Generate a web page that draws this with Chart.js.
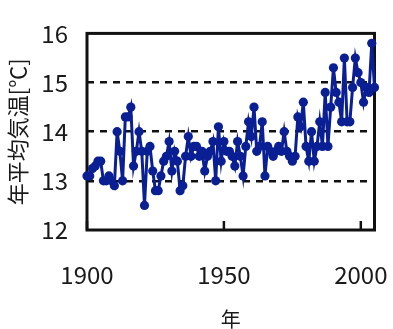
<!DOCTYPE html>
<html>
<head>
<meta charset="utf-8">
<script src="https://cdn.jsdelivr.net/npm/chart.js@4.4.1/dist/chart.umd.min.js"></script>
<style>
  html, body { margin: 0; padding: 0; background: #fff; }
</style>
</head>
<body>
<canvas id="tempChart" width="393" height="329"></canvas>
<script>
// annual mean temperature
const years = [];
for (let y = 1900; y <= 2006; y++) years.push(y);

const temps = [
  13.1, 13.1, 13.25, 13.3, 13.4, 13.4, 13.0, 13.0, 13.1, 13.0,   // 1900-1909
  12.9, 14.0, 13.6, 13.0, 14.3, 14.3, 14.5, 13.3, 13.6, 14.0,    // 1910-1919
  13.6, 12.5, 13.6, 13.7, 13.2, 12.8, 12.8, 13.1, 13.4, 13.5,    // 1920-1929
  13.8, 13.2, 13.6, 13.4, 12.8, 12.9, 13.5, 13.9, 13.5, 13.7,    // 1930-1939
  13.7, 13.5, 13.6, 13.2, 13.5, 13.6, 13.8, 13.0, 14.1, 13.4,    // 1940-1949
  13.8, 13.6, 13.6, 13.5, 13.3, 13.8, 13.5, 13.1, 13.7, 14.2,    // 1950-1959
  13.9, 14.5, 13.6, 13.7, 14.2, 13.1, 13.7, 13.6, 13.5, 13.6,    // 1960-1969
  13.7, 13.6, 14.0, 13.6, 13.5, 13.4, 13.5, 14.3, 14.1, 14.6,    // 1970-1979
  13.7, 13.4, 14.0, 13.4, 13.7, 14.2, 13.7, 14.8, 13.7, 14.5,    // 1980-1989
  15.3, 14.8, 14.6, 14.2, 15.5, 14.2, 14.2, 14.9, 15.5, 15.2,    // 1990-1999
  15.0, 14.6, 14.9, 14.8, 15.8, 14.9, 15.4                       // 2000-2006
];

const xTicks = [1900, 1950, 2000];
const yTicks = [12, 13, 14, 15, 16];

const lineColor = "#0b1f94";
const font = "'Noto Sans CJK JP', 'Noto Sans', sans-serif";

// solid box round the plot + small inside ticks on the bottom axis
const framePlugin = {
  id: "framePlugin",
  beforeDatasetsDraw(chart) {
    const { ctx, chartArea: a, scales } = chart;
    ctx.save();
    ctx.strokeStyle = "#111";
    ctx.lineWidth = 3;
    ctx.setLineDash([]);
    ctx.strokeRect(a.left, a.top, a.right - a.left, a.bottom - a.top);
    ctx.lineWidth = 2.5;
    xTicks.forEach(v => {
      const px = scales.x.getPixelForValue(v);
      ctx.beginPath();
      ctx.moveTo(px, a.bottom);
      ctx.lineTo(px, a.bottom - 9);
      ctx.stroke();
    });
    ctx.restore();
  }
};

new Chart(document.getElementById("tempChart").getContext("2d"), {
  type: "line",
  data: {
    datasets: [{
      data: years.map((y, i) => ({ x: y, y: temps[i] })),
      borderColor: lineColor,
      backgroundColor: lineColor,
      borderWidth: 3,
      tension: 0,
      pointRadius: c => (years[c.dataIndex] > 2005 ? 0 : 4.6),
      pointBorderWidth: 0,
      clip: { left: 6, top: 6, right: 6, bottom: 6 }
    }]
  },
  options: {
    responsive: false,
    devicePixelRatio: 1,
    animation: false,
    layout: { padding: { top: 20, right: 18.5, left: 0, bottom: 0 } },
    plugins: { legend: { display: false }, tooltip: { enabled: false } },
    scales: {
      x: {
        type: "linear",
        min: 1900,
        max: 2005,
        afterBuildTicks: s => { s.ticks = xTicks.map(v => ({ value: v })); },
        afterFit: s => { s.height = 99; s.paddingLeft = 0; s.paddingRight = 0; },
        grid: { display: false, drawTicks: false },
        border: { display: false },
        ticks: {
          color: "#1a1a1a",
          font: { family: font, size: 24 },
          padding: 30,
          maxRotation: 0,
          callback: v => String(v)
        },
        title: {
          display: true,
          text: "年",
          color: "#1a1a1a",
          font: { family: font, size: 20, lineHeight: 1 },
          padding: { top: 0, bottom: 0 }
        }
      },
      y: {
        min: 12,
        max: 16,
        afterBuildTicks: s => { s.ticks = yTicks.map(v => ({ value: v })); },
        afterFit: s => { s.width = 87; },
        grid: {
          color: c => (c.tick && (c.tick.value === 12 || c.tick.value === 16) ? "rgba(0,0,0,0)" : "#111"),
          lineWidth: 2.5,
          drawTicks: false
        },
        border: { display: false, dash: [7, 6] },
        ticks: {
          color: "#1a1a1a",
          font: { family: font, size: 24 },
          padding: 19
        },
        title: {
          display: true,
          text: "年平均気温[℃]",
          color: "#1a1a1a",
          font: { family: font, size: 22, lineHeight: 1 },
          padding: { top: 7, bottom: 0 }
        }
      }
    }
  },
  plugins: [framePlugin]
});
</script>
</body>
</html>
